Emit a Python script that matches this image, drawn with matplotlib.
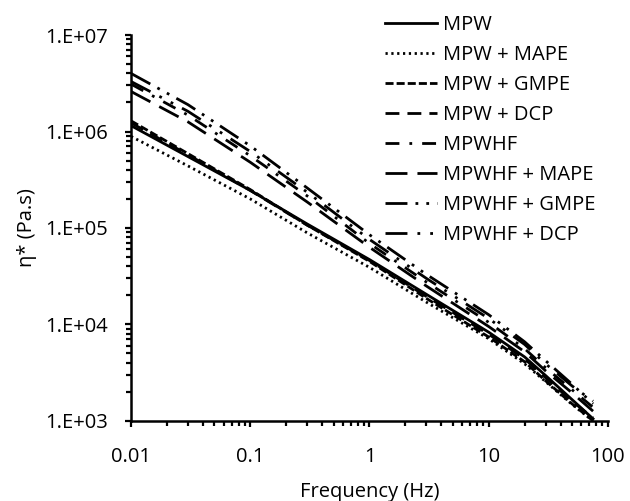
import numpy as np
import matplotlib
matplotlib.use("Agg")
import matplotlib.pyplot as plt
from matplotlib.ticker import LogLocator, NullFormatter, FixedLocator, FixedFormatter

plt.rcParams['font.family'] = ['Open Sans', 'DejaVu Sans']

# Frequenz (Hz) und komplexe Viskosität (Pa.s)
freq = [0.01, 0.03, 0.1, 0.3, 1, 3, 10, 20, 30, 50, 75]

mpw = [1.15e6, 5.5e5, 2.45e5, 1.1e5, 4.7e4, 2.05e4, 8.3e3, 4.6e3, 2.95e3, 1.66e3, 1.05e3]
mpw_mape = [8.9e5, 4.4e5, 2.0e5, 8.9e4, 3.9e4, 1.7e4, 7.1e3, 3.9e3, 2.55e3, 1.48e3, 1.0e3]
mpw_gmpe = [1.29e6, 5.9e5, 2.5e5, 1.07e5, 4.5e4, 1.86e4, 7.4e3, 4.1e3, 2.6e3, 1.5e3, 1.0e3]
mpw_dcp = [1.23e6, 5.75e5, 2.45e5, 1.07e5, 4.6e4, 1.95e4, 7.9e3, 4.4e3, 2.8e3, 1.6e3, 1.07e3]
mpwhf = [3.1e6, 1.48e6, 5.6e5, 2.15e5, 6.9e4, 2.75e4, 1.05e4, 5.6e3, 3.55e3, 2.1e3, 1.38e3]
mpwhf_mape = [2.6e6, 1.26e6, 4.8e5, 1.86e5, 6.3e4, 2.5e4, 9.5e3, 5.2e3, 3.3e3, 1.95e3, 1.26e3]
mpwhf_gmpe = [4.0e6, 1.9e6, 7.1e5, 2.6e5, 8.5e4, 3.3e4, 1.26e4, 6.6e3, 4.2e3, 2.4e3, 1.5e3]
mpwhf_dcp = [3.3e6, 1.62e6, 6.2e5, 2.35e5, 7.6e4, 3.0e4, 1.15e4, 6.2e3, 3.9e3, 2.3e3, 1.6e3]

series = [
    ("MPW", mpw, "-"),
    ("MPW + MAPE", mpw_mape, (0, (0.8, 1.3))),
    ("MPW + GMPE", mpw_gmpe, (0, (2.9, 1.1))),
    ("MPW + DCP", mpw_dcp, (0, (5, 2.9))),
    ("MPWHF", mpwhf, (0, (5, 3.6, 1, 3.6))),
    ("MPWHF + MAPE", mpwhf_mape, (0, (7.9, 3.6))),
    ("MPWHF + GMPE", mpwhf_gmpe, (0, (7.9, 2.9, 1, 2.9, 1, 2.9))),
    ("MPWHF + DCP", mpwhf_dcp, (0, (7.9, 3.6, 1, 3.6, 1, 3.6))),
]

fig = plt.figure(figsize=(6.3, 5.01), dpi=100)
ax = fig.add_axes([0.208, 0.160, 0.757, 0.770])

for label, values, style in series:
    ax.plot(freq, values, color='black', linewidth=2.0, linestyle=style, label=label)

ax.set_xscale('log')
ax.set_yscale('log')
ax.set_xlim(0.01, 100)
ax.set_ylim(1e3, 1e7)

ax.xaxis.set_major_locator(FixedLocator([0.01, 0.1, 1, 10, 100]))
ax.xaxis.set_major_formatter(FixedFormatter(["0.01", "0.1", "1", "10", "100"]))
ax.yaxis.set_major_locator(FixedLocator([1e3, 1e4, 1e5, 1e6, 1e7]))
ax.yaxis.set_major_formatter(FixedFormatter(["1.E+03", "1.E+04", "1.E+05", "1.E+06", "1.E+07"]))
ax.xaxis.set_minor_locator(LogLocator(base=10, subs=np.arange(2, 10)))
ax.yaxis.set_minor_locator(LogLocator(base=10, subs=np.arange(2, 10)))
ax.xaxis.set_minor_formatter(NullFormatter())
ax.yaxis.set_minor_formatter(NullFormatter())

ax.tick_params(which='major', direction='out', length=4.5, width=1.6, labelsize=14.5)
ax.tick_params(axis='x', which='major', pad=14)
ax.tick_params(axis='y', which='major', pad=12)
ax.tick_params(which='minor', direction='out', length=3.5, width=1.6)

for side in ['top', 'right']:
    ax.spines[side].set_visible(False)
for side in ['left', 'bottom']:
    ax.spines[side].set_linewidth(1.8)

ax.set_xlabel('Frequency (Hz)', fontsize=14.5, labelpad=11)
ax.set_ylabel('η* (Pa.s)', fontsize=14.5, labelpad=6)

ax.legend(loc='upper left', bbox_to_anchor=(385 / 630, 1 - 15 / 501), bbox_transform=fig.transFigure,
          frameon=False, fontsize=14.5, handlelength=2.6, handletextpad=0.3,
          labelspacing=0.5, borderaxespad=0.0, borderpad=0.0)

fig.savefig('out.png', dpi=100)
